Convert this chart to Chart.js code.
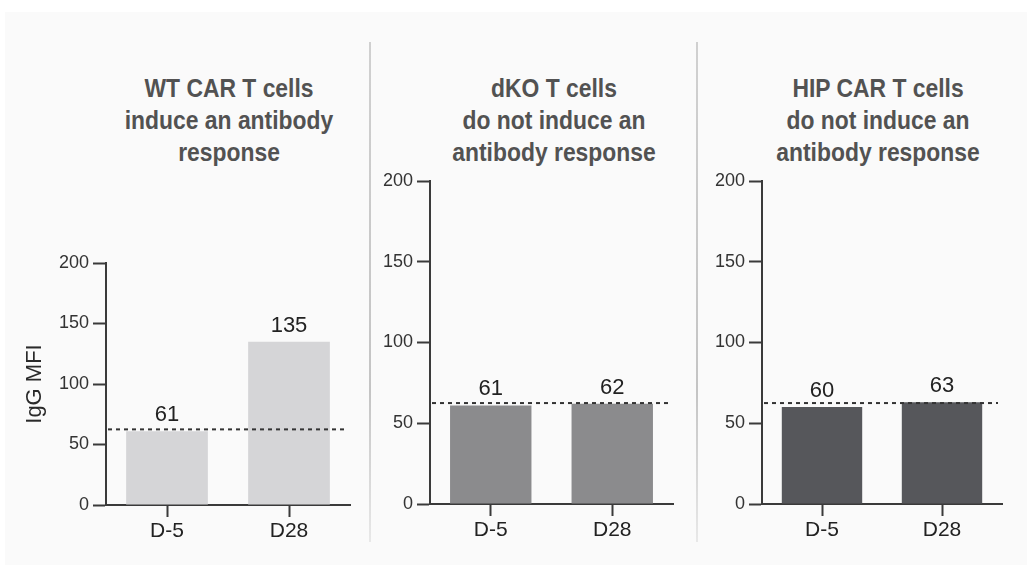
<!DOCTYPE html>
<html>
<head>
<meta charset="utf-8">
<script src="https://cdn.jsdelivr.net/npm/chart.js@4"></script>
<style>
  html, body { margin: 0; padding: 0; background: #fff; }
  body { width: 1027px; height: 565px; position: relative; overflow: hidden; font-family: "Liberation Sans", Arial, sans-serif; }
  .bg { position: absolute; left: 5px; top: 12px; right: 0; bottom: 0; background: #fafafa; }
  .divider { position: absolute; top: 42px; width: 2px; height: 500px; background: linear-gradient(#d0d0d0, #c4c4c4 70%, #e8e8e8); }
  .ptitle { position: absolute; top: 72px; width: 320px; margin-left: -160px; text-align: center; font-weight: bold; font-size: 26px; line-height: 32px; color: #525252; transform: scaleX(0.88); }
  canvas { position: absolute; }
</style>
</head>
<body>
<div class="bg"></div>
<div class="divider" style="left:369px"></div>
<div class="divider" style="left:696px"></div>
<div class="ptitle" id="t0" style="left:229px"></div>
<div class="ptitle" id="t1" style="left:554px"></div>
<div class="ptitle" id="t2" style="left:878px"></div>
<canvas id="c0" width="370" height="325" style="left:0;top:240px"></canvas>
<canvas id="c1" width="327" height="405" style="left:370px;top:160px"></canvas>
<canvas id="c2" width="330" height="405" style="left:697px;top:160px"></canvas>
<script>
// values
const categories = ['D-5', 'D28'];
const wtValues = [61, 135];
const dkoValues = [61, 62];
const hipValues = [60, 63];
const cutoffs = [62.5, 62.5, 62.5];
const yTicks = [0, 50, 100, 150, 200];
const panelTitles = [
  ['WT CAR T cells', 'induce an antibody', 'response'],
  ['dKO T cells', 'do not induce an', 'antibody response'],
  ['HIP CAR T cells', 'do not induce an', 'antibody response'],
];

Chart.defaults.font.family = '"Liberation Sans", Arial, sans-serif';
const AXIS = '#3a3a3a';

// dotted cutoff line + numbers above bars
const overlay = {
  id: 'overlay',
  afterDatasetsDraw(chart, args, o) {
    const { ctx, chartArea } = chart;
    const y = chart.scales.y.getPixelForValue(o.cutoff);
    ctx.save();
    ctx.strokeStyle = '#333';
    ctx.lineWidth = 2;
    ctx.setLineDash([4, 4]);
    ctx.beginPath();
    ctx.moveTo(chartArea.left + 2, y);
    ctx.lineTo(chartArea.right - 4, y);
    ctx.stroke();
    ctx.setLineDash([]);
    ctx.fillStyle = '#222';
    ctx.font = '22px "Liberation Sans", Arial, sans-serif';
    ctx.textAlign = 'center';
    ctx.textBaseline = 'alphabetic';
    const vals = chart.data.datasets[0].data;
    chart.getDatasetMeta(0).data.forEach((bar, i) => {
      ctx.fillText(String(vals[i]), bar.x, bar.y - 10);
    });
    ctx.restore();
  }
};

function makeChart(id, values, color, cutoff, yWidth, xHeight, pad, showTitle) {
  return new Chart(document.getElementById(id), {
    type: 'bar',
    data: { labels: categories, datasets: [{ data: values, backgroundColor: color, categoryPercentage: 1, barPercentage: 0.67 }] },
    options: {
      responsive: false, animation: false, events: [],
      layout: { padding: pad },
      plugins: { legend: { display: false }, tooltip: { enabled: false }, overlay: { cutoff } },
      scales: {
        x: {
          grid: { offset: false, drawOnChartArea: false, tickLength: 12, tickWidth: 2, tickColor: AXIS, color: AXIS },
          border: { color: AXIS, width: 2 },
          ticks: { color: '#222', font: { size: 21 }, padding: 2 },
          afterFit(s) { s.height = xHeight; },
        },
        y: {
          min: 0, max: 200,
          afterBuildTicks(s) { s.ticks = yTicks.map(v => ({ value: v })); },
          grid: { drawOnChartArea: false, tickLength: 13, tickWidth: 2, tickColor: AXIS, color: AXIS },
          border: { color: AXIS, width: 2 },
          ticks: { color: '#333', font: { size: 18 }, padding: 4 },
          title: { display: showTitle, text: 'IgG MFI', color: '#2a2a2a', font: { size: 22 }, padding: { top: 22, bottom: 0 } },
          afterFit(s) { s.width = yWidth; },
        },
      },
    },
    plugins: [overlay],
  });
}

panelTitles.forEach((lines, i) => { document.getElementById('t' + i).innerHTML = lines.join('<br>'); });

makeChart('c0', wtValues, '#d5d5d7', cutoffs[0], 106, 60, { top: 23, right: 20, left: 0, bottom: 0 }, true);
makeChart('c1', dkoValues, '#8b8b8d', cutoffs[1], 60, 61, { top: 21, right: 24, left: 0, bottom: 0 }, false);
makeChart('c2', hipValues, '#56575b', cutoffs[2], 65, 61, { top: 21, right: 25, left: 0, bottom: 0 }, false);
</script>
</body>
</html>
